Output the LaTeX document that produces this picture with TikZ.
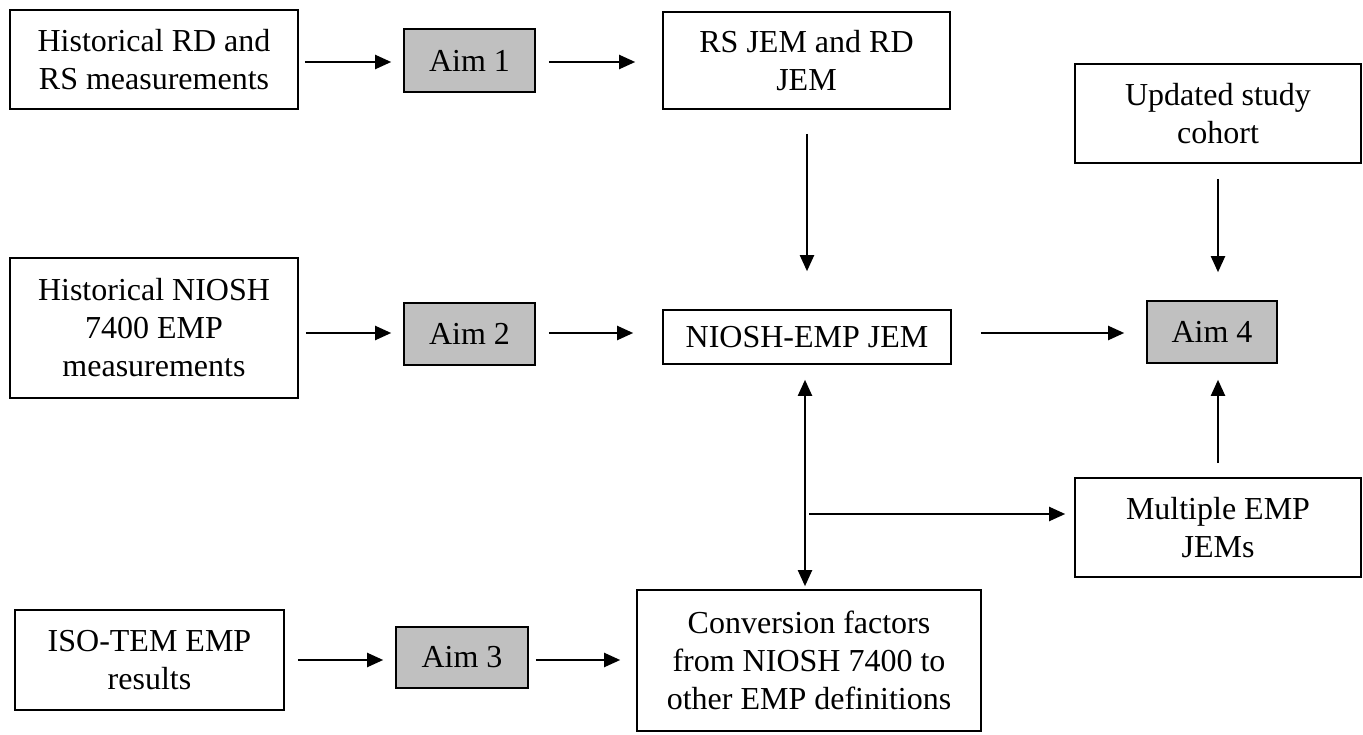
\documentclass[tikz,border=0pt]{standalone}
\usepackage{fontspec}
\setmainfont{Liberation Serif}
\usetikzlibrary{arrows.meta,calc}
\definecolor{aimgray}{RGB}{192,192,192}
\tikzset{
  box/.style={draw=black, line width=1.6pt, fill=white, align=center, inner sep=0pt,
    font=\fontsize{32}{38}\selectfont},
  aimbox/.style={box, fill=aimgray},
  arr/.style={line width=2pt, -{Triangle[length=16pt,width=14pt]}},
  darr/.style={line width=2pt, {Triangle[length=16pt,width=14pt]}-{Triangle[length=16pt,width=14pt]}}
}
\begin{document}
\begin{tikzpicture}[x=1pt,y=-1pt]
\useasboundingbox (0,0) rectangle (1363,735);
% row 1
\node[box, minimum width=288pt, minimum height=99pt] (b1) at (154,59.5) {Historical RD and\\RS measurements};
\node[aimbox, minimum width=131pt, minimum height=63pt] (aim1) at (469.5,60.5) {Aim 1};
\node[box, minimum width=287pt, minimum height=97pt] (rsjem) at (806.5,60.5) {RS JEM and RD\\JEM};
\node[box, minimum width=286pt, minimum height=99pt] (cohort) at (1218,113.5) {Updated study\\cohort};
% row 2
\node[box, minimum width=288pt, minimum height=140pt] (b2) at (154,328) {Historical NIOSH\\7400 EMP\\measurements};
\node[aimbox, minimum width=131pt, minimum height=62pt] (aim2) at (469.5,334) {Aim 2};
\node[box, minimum width=288pt, minimum height=54pt] (niosh) at (807,337) {NIOSH-EMP JEM};
\node[aimbox, minimum width=130pt, minimum height=62pt] (aim4) at (1212,332) {Aim 4};
\node[box, minimum width=286pt, minimum height=99pt] (multi) at (1218,527.5) {Multiple EMP\\JEMs};
% row 3
\node[box, minimum width=269pt, minimum height=100pt] (iso) at (149.5,660) {ISO-TEM EMP\\results};
\node[aimbox, minimum width=132pt, minimum height=61pt] (aim3) at (462,657.5) {Aim 3};
\node[box, minimum width=344pt, minimum height=141pt] (conv) at (809,660.5) {Conversion factors\\from NIOSH 7400 to\\other EMP definitions};
% rows and columns
\coordinate (r1) at (0,62);
\coordinate (r2) at (0,333);
\coordinate (r3) at (0,660);
\coordinate (cx) at (805,0);
\coordinate (rx) at (807,0);
\coordinate (ax) at (1218,0);
\coordinate (br) at (805,514);
% horizontal arrows
\draw[arr, shorten <=6pt, shorten >=12pt] (b1.east |- r1) -- (aim1.west |- r1);
\draw[arr, shorten <=13pt, shorten >=27pt] (aim1.east |- r1) -- (rsjem.west |- r1);
\draw[arr, shorten <=7pt, shorten >=12pt] (b2.east |- r2) -- (aim2.west |- r2);
\draw[arr, shorten <=13pt, shorten >=29pt] (aim2.east |- r2) -- (niosh.west |- r2);
\draw[arr, shorten <=29pt, shorten >=22pt] (niosh.east |- r2) -- (aim4.west |- r2);
\draw[arr, shorten <=13pt, shorten >=12pt] (iso.east |- r3) -- (aim3.west |- r3);
\draw[arr, shorten <=7pt, shorten >=16pt] (aim3.east |- r3) -- (conv.west |- r3);
% vertical arrows
\draw[arr, shorten <=24pt, shorten >=38pt] (rsjem.south -| rx) -- (niosh.north -| rx);
\draw[arr, shorten <=15pt, shorten >=28pt] (cohort.south -| ax) -- (aim4.north -| ax);
\draw[arr, shorten <=14pt, shorten >=16pt] (multi.north -| ax) -- (aim4.south -| ax);
\draw[darr, shorten <=15pt, shorten >=3pt] (niosh.south -| cx) -- (conv.north -| cx);
\draw[arr, shorten <=4pt, shorten >=9pt] (br) -- (multi.west |- br);
\end{tikzpicture}
\end{document}
